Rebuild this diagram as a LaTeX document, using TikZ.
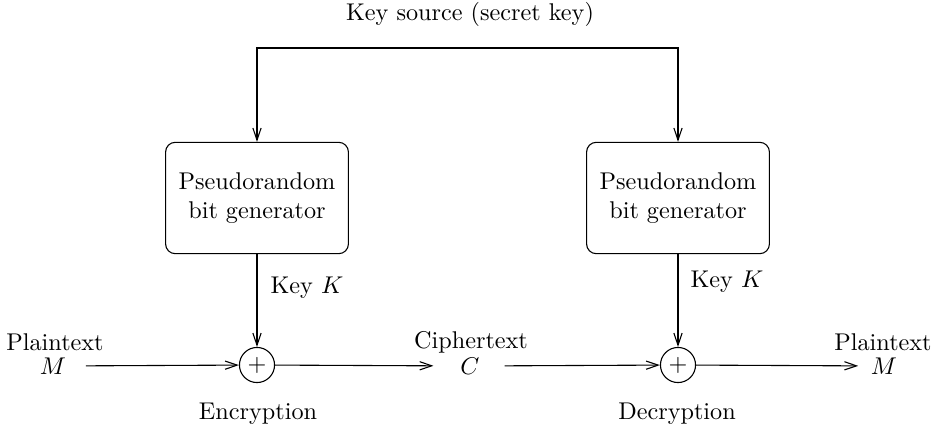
\documentclass[tikz,border=0pt]{standalone}
\usetikzlibrary{arrows.meta}

\tikzset{every picture/.style={line width=0.45pt}}
\tikzset{prbg/.style={draw,rounded corners=4pt,minimum width=75.5pt,minimum height=46pt,align=center,inner sep=0pt},
  xorgate/.style={draw,circle,minimum size=14.5pt,inner sep=0pt}}

\begin{document}
\begin{tikzpicture}[x=0.413pt,y=0.413pt,yscale=-1,>={Straight Barb[length=5pt,width=3.4pt]}]
  \useasboundingbox (0,0) rectangle (943,434);

  % Text Node
  \node (keysrc) at (470,14) {Key source (secret key)};
  \coordinate (keyL) at (257,48);
  \coordinate (keyR) at (678,48);

  %Shape: Rounded Rect
  \node[prbg] (genA) at (257,198) {Pseudorandom\\bit generator};
  %Shape: Rounded Rect
  \node[prbg] (genB) at (678,198) {Pseudorandom\\bit generator};

  %Shape: Circle
  \node[xorgate] (xorA) at (257,365) {$+$};
  %Shape: Circle
  \node[xorgate] (xorB) at (678,365) {$+$};

  % Text Node
  \node (ptA) at (55,342) {Plaintext};
  \node (mA) at (53,366) {$M$};
  % Text Node
  \node (ctxt) at (471,342) {Ciphertext};
  \node (c) at (470,366) {$C$};
  % Text Node
  \node (ptB) at (883,342) {Plaintext};
  \node (mB) at (884,366) {$M$};
  % Text Node
  \node (kA) at (307,288) {Key $K$};
  \node (kB) at (727,282) {Key $K$};
  % Text Node
  \node (enc) at (258,414) {Encryption};
  \node (dec) at (677,414) {Decryption};

  %Straight Lines
  \draw[<->] (genA.north) -- (keyL) -- (keyR) -- (genB.north);
  \draw[->] (genA) -- (xorA);
  \draw[->] (genB) -- (xorB);
  \draw[->,shorten <=4.6pt] (mA) -- (xorA);
  \draw[->,shorten >=7.6pt] (xorA) -- (c);
  \draw[->,shorten <=6.8pt] (c) -- (xorB);
  \draw[->,shorten >=1.7pt] (xorB) -- (mB);

\end{tikzpicture}
\end{document}
